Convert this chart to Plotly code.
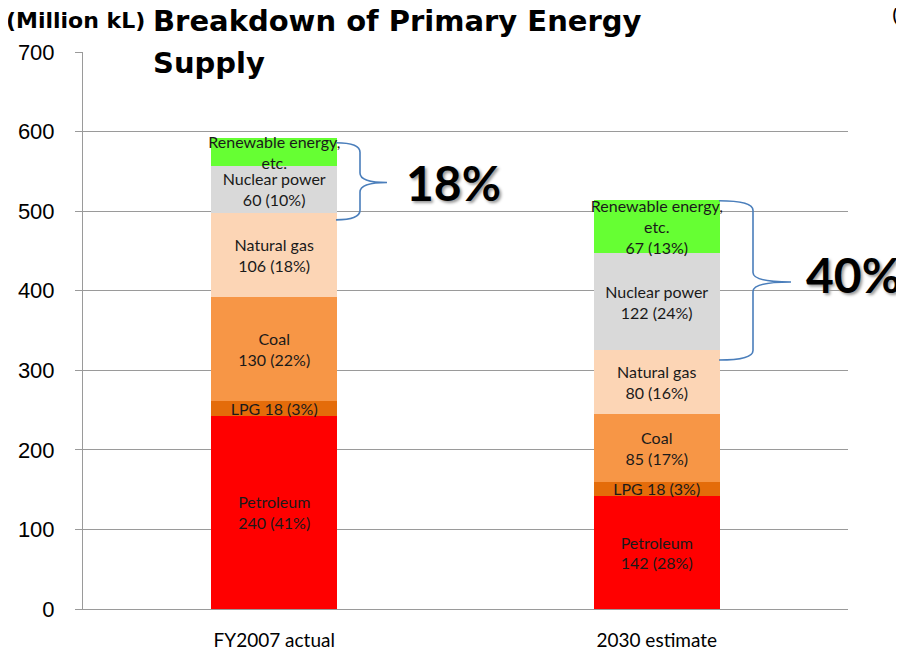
import plotly.graph_objects as go

categories = ["FY2007 actual", "2030 estimate"]

series_names = ["Petroleum", "LPG", "Coal", "Natural gas", "Nuclear power", "Renewable energy, etc."]
petroleum = [243, 142]
lpg = [18, 18]
coal = [131, 85]
natural_gas = [106, 80]
nuclear = [59, 122]
renewable = [35, 67]

petroleum_text = ["Petroleum<br>240 (41%)", "Petroleum<br>142 (28%)"]
lpg_text = ["LPG 18 (3%)", "LPG 18 (3%)"]
coal_text = ["Coal<br>130 (22%)", "Coal<br>85 (17%)"]
gas_text = ["Natural gas<br>106 (18%)", "Natural gas<br>80 (16%)"]
nuclear_text = ["Nuclear power<br>60 (10%)", "Nuclear power<br>122 (24%)"]
renewable_text = ["Renewable energy,<br>etc.", "Renewable energy,<br>etc.<br>67 (13%)"]

share_labels = ["18%", "40%"]
y_ticks = [0, 100, 200, 300, 400, 500, 600, 700]

colors = ["#FF0000", "#E46C0A", "#F79646", "#FCD5B5", "#D9D9D9", "#66FF33"]
values = [petroleum, lpg, coal, natural_gas, nuclear, renewable]
texts = [petroleum_text, lpg_text, coal_text, gas_text, nuclear_text, renewable_text]

fig = go.Figure()
for name, v, t, c in zip(series_names, values, texts, colors):
    fig.add_trace(go.Bar(
        x=categories, y=v, name=name, text=t,
        textposition="inside", insidetextanchor="middle",
        constraintext="none", textangle=0,
        textfont=dict(family="Lato, Carlito, sans-serif", size=16, color="#1a1a1a"),
        marker=dict(color=c, line=dict(width=0)),
        hoverinfo="skip",
    ))

# page body has an 8px margin; figure sized to fill the rest of the window
OFF = 8
W, H = 904 - OFF, 653 - OFF
PL, PR, PT, PB = 83, 848, 52, 609          # plot area in window pixels
L, R, T, B = PL - OFF, 904 - PR, PT - OFF, 653 - PB

def px_x(p):
    return (p - PL) / (PR - PL)

def px_y(p):
    return (PB - p) / (PB - PT)

def brace(x0p, xvp, xpp, top, mid, bot, r):
    x0, xv, xp = px_x(x0p), px_x(xvp), px_x(xpp)
    return (f"M {x0},{top} Q {xv},{top} {xv},{top - r} L {xv},{mid + r} "
            f"Q {xv},{mid} {xp},{mid} Q {xv},{mid} {xv},{mid - r} "
            f"L {xv},{bot + r} Q {xv},{bot} {x0},{bot}")

totals = [sum(s[i] for s in values) for i in range(2)]
brace_color = "#4A7EBB"
shapes = [
    dict(type="path", xref="paper", yref="y",
         path=brace(336, 360, 387, totals[0] - 6, 536, 489, 12),
         line=dict(color=brace_color, width=1.6)),
    dict(type="path", xref="paper", yref="y",
         path=brace(719, 753, 791, totals[1] - 1, 411, 313, 12),
         line=dict(color=brace_color, width=1.6)),
]

title_font = dict(family="DejaVu Sans, Verdana, sans-serif", color="#000")
annotations = [
    dict(text="<b>(Million kL)</b>", x=px_x(4), y=px_y(20), xref="paper", yref="paper",
         xanchor="left", yanchor="middle", showarrow=False,
         font=dict(title_font, size=22)),
    dict(text="<b>Breakdown of Primary Energy</b>", x=px_x(151), y=px_y(21), xref="paper", yref="paper",
         xanchor="left", yanchor="middle", showarrow=False,
         font=dict(title_font, size=29)),
    dict(text="<b>Supply</b>", x=px_x(151), y=px_y(63), xref="paper", yref="paper",
         xanchor="left", yanchor="middle", showarrow=False,
         font=dict(title_font, size=29)),
    dict(text="(", x=px_x(890), y=px_y(14), xref="paper", yref="paper",
         xanchor="left", yanchor="middle", showarrow=False,
         font=dict(family="Liberation Sans, Arial", size=20, color="#000")),
    dict(text="<b>" + share_labels[0] + "</b>", x=px_x(453), y=536, xref="paper", yref="y",
         xanchor="center", yanchor="middle", showarrow=False,
         font=dict(family="Lato, sans-serif", size=48, color="#000", shadow="2px 2px 3px #999")),
    dict(text="<b>" + share_labels[1] + "</b>", x=px_x(853), y=421, xref="paper", yref="y",
         xanchor="center", yanchor="middle", showarrow=False,
         font=dict(family="Lato, sans-serif", size=48, color="#000", shadow="2px 2px 3px #999")),
]

fig.update_layout(
    width=W, height=H,
    margin=dict(l=L, r=R, t=T, b=B, pad=0),
    barmode="stack", bargap=0.67,
    showlegend=False,
    plot_bgcolor="white", paper_bgcolor="white",
    shapes=shapes, annotations=annotations,
    hovermode=False,
)
fig.update_yaxes(
    range=[0, 700], tickvals=y_ticks, automargin=False,
    showgrid=True, gridcolor="#9a9a9a", gridwidth=1,
    showline=True, linecolor="#9a9a9a", linewidth=1,
    ticks="outside", ticklen=7, tickcolor="#9a9a9a",
    tickfont=dict(family="Liberation Sans, Arial", size=22, color="#000"),
    ticklabelstandoff=16, zeroline=False,
)
fig.update_xaxes(
    showline=True, linecolor="#9a9a9a", linewidth=1, ticks="", automargin=False,
    tickfont=dict(family="Lato, sans-serif", size=19, color="#000"),
    ticklabelstandoff=14,
)

fig.write_html("out.html")
